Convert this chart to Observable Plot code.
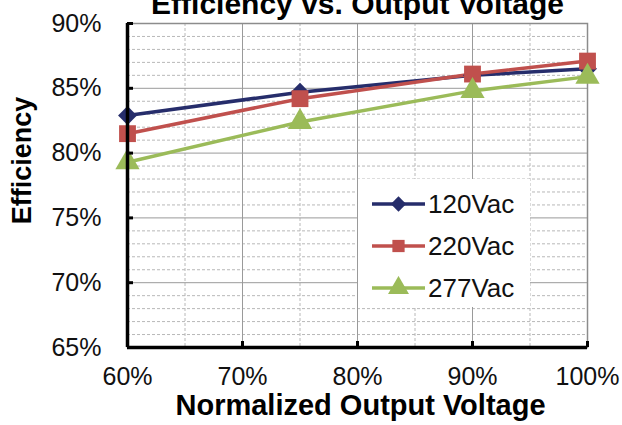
<!DOCTYPE html>
<html><head><meta charset="utf-8">
<script src="https://cdn.jsdelivr.net/npm/d3@7"></script>
<script src="https://cdn.jsdelivr.net/npm/@observablehq/plot@0.6"></script>
<style>
body{margin:0;background:#fff;font-family:"Liberation Sans",Arial,sans-serif;}
#wrap{position:relative;width:622px;height:425px;overflow:hidden;}
#legend{position:absolute;left:358px;top:179px;width:172px;height:128px;background:#fff;}
.item{position:absolute;left:14px;height:30px;display:flex;align-items:center;font-size:26px;color:#111;}
.item svg{margin-right:3px;}
</style></head><body>
<div id="wrap"><div id="legend"></div></div>
<script>
const voltages = [0.60, 0.75, 0.90, 1.00];
const eff120 = [0.829, 0.847, 0.860, 0.865];
const eff220 = [0.815, 0.842, 0.861, 0.871];
const eff277 = [0.793, 0.824, 0.848, 0.859];
const seriesNames = ["120Vac", "220Vac", "277Vac"];
const seriesColors = ["#262D6B", "#C0504D", "#9BBB59"];
const seriesSymbols = ["diamond2", "square", "triangle"];
const xMajor = [0.6, 0.7, 0.8, 0.9, 1.0];
const xMinor = [0.65, 0.75, 0.85, 0.95];
const yMajor = [0.65, 0.70, 0.75, 0.80, 0.85, 0.90];
const yMinor = d3.range(66, 90).filter(v => v % 5 !== 0).map(v => v / 100);
const titleText = "Efficiency vs. Output Voltage";
const xTitle = "Normalized Output Voltage";
const yTitle = "Efficiency";

const allSeries = [eff120, eff220, eff277];
const data = [];
allSeries.forEach((arr, i) => arr.forEach((v, j) => data.push({series: seriesNames[i], x: voltages[j], y: v})));

const pct = d3.format(".0%");
const plot = Plot.plot({
  width: 622, height: 425,
  marginLeft: 127, marginRight: 35, marginTop: 23, marginBottom: 78,
  style: {fontFamily: "'Liberation Sans', Arial, sans-serif", background: "transparent", overflow: "visible"},
  x: {domain: [0.6, 1.0]},
  y: {domain: [0.65, 0.90]},
  color: {domain: seriesNames, range: seriesColors},
  symbol: {domain: seriesNames, range: seriesSymbols},
  marks: [
    Plot.ruleY(yMinor, {stroke: "#b8b8b8", strokeDasharray: "3,2", strokeWidth: 1}),
    Plot.ruleX(xMinor, {stroke: "#b8b8b8", strokeDasharray: "3,2", strokeWidth: 1}),
    Plot.ruleY(yMajor, {stroke: "#9a9a9a", strokeWidth: 1}),
    Plot.ruleX(xMajor, {stroke: "#9a9a9a", strokeWidth: 1}),
    Plot.frame({stroke: "#8c8c8c", strokeWidth: 1.5}),
    Plot.line(data, {x: "x", y: "y", stroke: "series", strokeWidth: 3.5}),
    Plot.dot(data.filter(d => d.series === "120Vac"), {x: "x", y: "y", fill: "series", symbol: "series", r: 8.5, stroke: "none"}),
    Plot.dot(data.filter(d => d.series === "220Vac"), {x: "x", y: "y", fill: "series", symbol: "series", r: 9.5, stroke: "none"}),
    Plot.dot(data.filter(d => d.series === "277Vac"), {x: "x", y: "y", fill: "series", symbol: "series", r: 9, stroke: "none"}),
    Plot.ruleX([0.6], {stroke: "#000", strokeWidth: 3.5}),
    Plot.ruleY([0.65], {stroke: "#000", strokeWidth: 3.5}),
    Plot.axisY({ticks: yMajor, tickSize: 6, dx: 6, tickFormat: () => "", stroke: "#000", strokeWidth: 3, label: null}),
    Plot.axisX({ticks: xMajor, tickSize: 6, dy: -6, tickFormat: () => "", stroke: "#000", strokeWidth: 3, label: null}),
    Plot.axisY({ticks: yMajor, tickSize: 0, tickPadding: 26, tickFormat: pct, fontSize: 25, fill: "#111", label: null}),
    Plot.axisX({ticks: xMajor, tickSize: 0, tickPadding: 20, tickFormat: pct, fontSize: 25, fill: "#111", label: null}),
    Plot.text([xTitle], {frameAnchor: "bottom", dy: 67, dx: 3, fontSize: 29, fontWeight: "bold", fill: "#000", lineAnchor: "bottom"}),
    Plot.text([yTitle], {frameAnchor: "left", textAnchor: "middle", dx: -105, dy: -25, rotate: -90, fontSize: 27, fontWeight: "bold", fill: "#000"}),
    Plot.text([titleText], {frameAnchor: "top", dx: 0, dy: -10, fontSize: 30, fontWeight: "bold", fill: "#000", lineAnchor: "bottom"})
  ]
});
document.getElementById("wrap").prepend(plot);

const legend = document.getElementById("legend");
seriesNames.forEach((name, i) => {
  const sym = d3.symbol(d3["symbol" + {diamond2: "Diamond2", square: "Square", triangle: "Triangle"}[seriesSymbols[i]]], [150, 150, 190][i])();
  const div = document.createElement("div");
  div.className = "item";
  div.style.top = (10 + i * 42) + "px";
  div.innerHTML = `<svg width="53" height="24"><line x1="0" x2="53" y1="12" y2="12" stroke="${seriesColors[i]}" stroke-width="3.5"/><path d="${sym}" transform="translate(26.5,12)" fill="${seriesColors[i]}"/></svg>${name}`;
  legend.appendChild(div);
});
</script>
</body></html>
